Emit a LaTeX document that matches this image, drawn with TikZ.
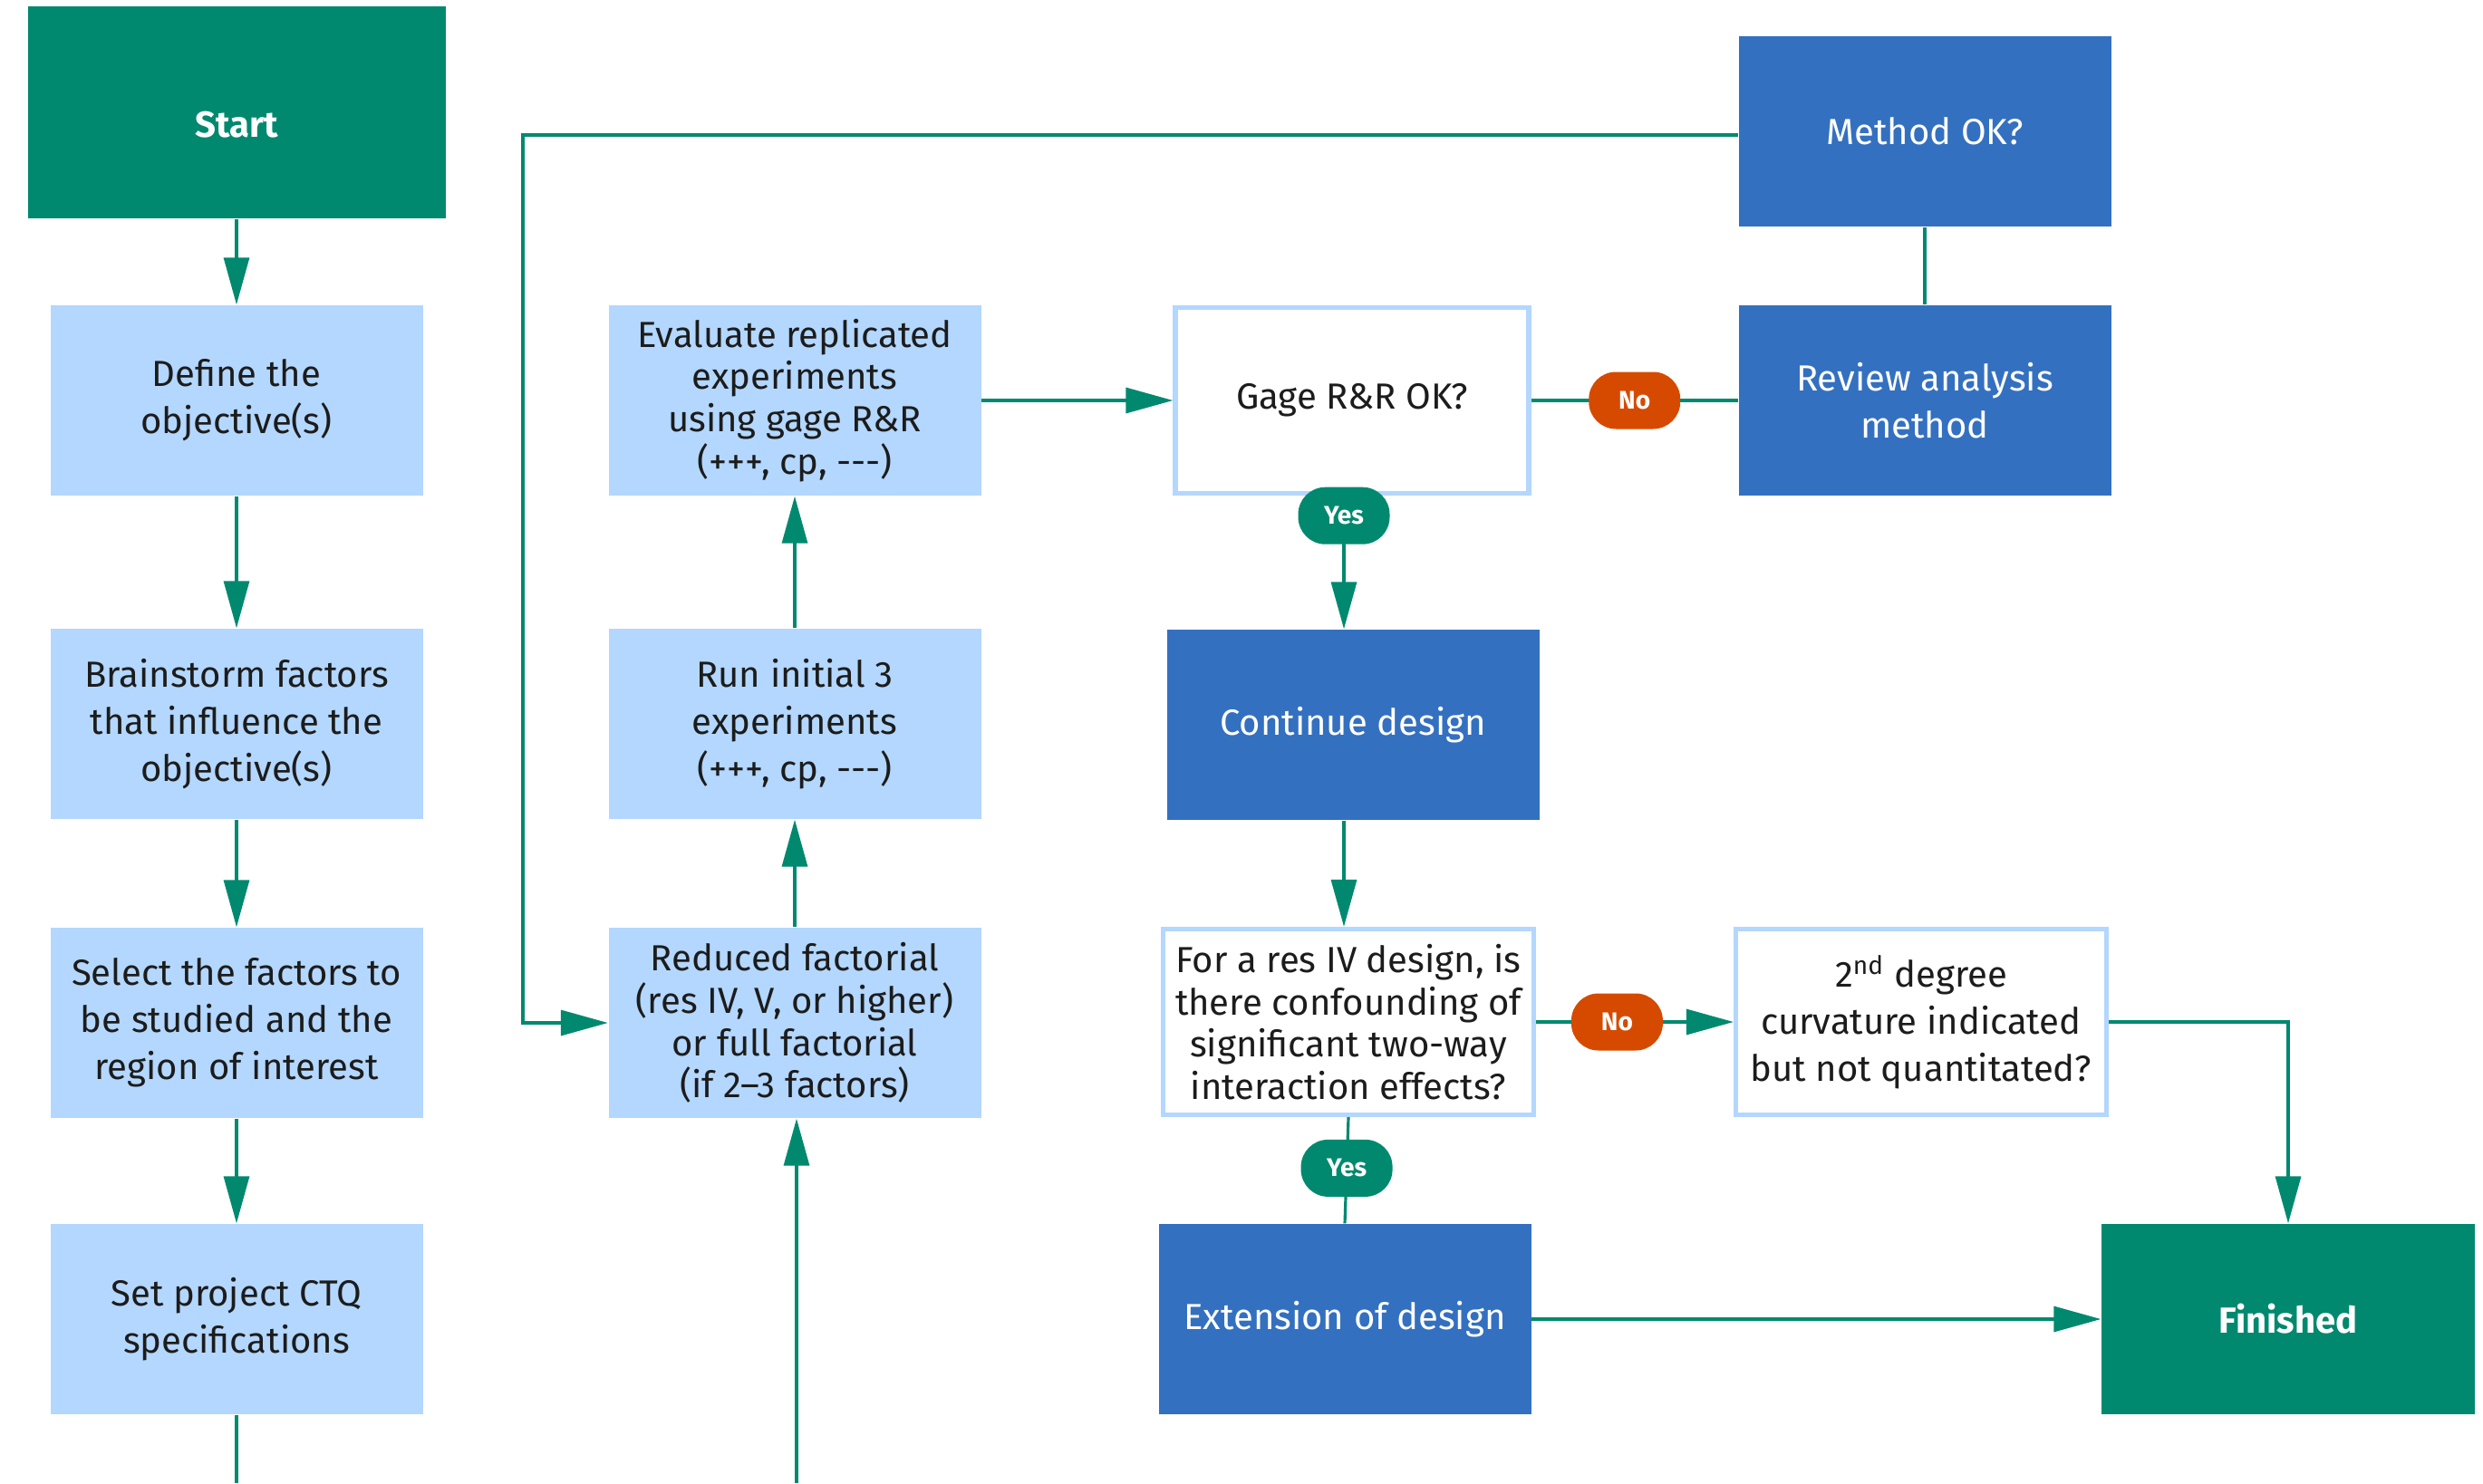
\documentclass[tikz,border=0pt]{standalone}
\usepackage{fontspec}
\setmainfont{Fira Sans}
\usepackage{xcolor}
\definecolor{mygreen}{HTML}{00896F}
\definecolor{mypale}{HTML}{B3D7FE}
\definecolor{mynavy}{HTML}{3470C0}
\definecolor{myorange}{HTML}{D64A00}
\definecolor{myink}{HTML}{1C1C1C}
\usepackage{tikz}
\usetikzlibrary{arrows.meta}
\tikzset{
  box/.style={minimum width=4.11cm,minimum height=2.1cm,align=center,inner sep=0pt,
    text=myink,font=\fontsize{11.4}{14.8}\selectfont},
  tight/.style={font=\fontsize{11.4}{13.3}\selectfont},
  palebox/.style={box,fill=mypale},
  navybox/.style={box,fill=mynavy,text=white},
  greenbox/.style={box,fill=mygreen,text=white,font=\fontsize{11.4}{14.8}\selectfont\bfseries},
  askbox/.style={box,draw=mypale,line width=1.5pt,fill=white,minimum height=2.05cm},
  wire/.style={draw=mygreen,line width=0.9pt},
  flow/.style={wire,-{Triangle[length=0.52cm,width=0.28cm]}},
  pill/.style={fill=#1,text=white,font=\fontsize{8}{9}\selectfont\bfseries,
    rounded corners=0.3cm,minimum width=1.01cm,minimum height=0.63cm,inner sep=0pt}
}
\begin{document}
\begin{tikzpicture}
        \useasboundingbox (0cm,0cm) rectangle (27.4cm,-16.37cm);
        % first column
        \node[greenbox,minimum width=4.61cm,minimum height=2.34cm,text height=0.56cm,text depth=0pt] (start) at (2.61cm,-1.24cm) {Start};
        \node[palebox] (define) at (2.61cm,-4.42cm) {Define the\\objective(s)};
        \node[palebox] (brainstorm) at (2.61cm,-7.99cm) {Brainstorm factors\\that influence the\\objective(s)};
        \node[palebox] (select) at (2.61cm,-11.29cm) {Select the factors to\\be studied and the\\region of interest};
        \node[palebox] (ctq) at (2.61cm,-14.56cm) {Set project CTQ\\specifications};
        % second column
        \node[palebox,tight] (evaluate) at (8.77cm,-4.42cm) {Evaluate replicated\\experiments\\using gage R\&R\\(+++, cp, -{}-{}-)};
        \node[palebox] (run) at (8.77cm,-7.99cm) {Run initial 3\\experiments\\(+++, cp, -{}-{}-)};
        \node[palebox,tight] (reduced) at (8.77cm,-11.29cm) {Reduced factorial\\(res IV, V, or higher)\\or full factorial\\(if 2–3 factors)};
        % third column
        \node[askbox,minimum width=3.9cm] (gage) at (14.92cm,-4.42cm) {Gage R\&R OK?};
        \node[navybox] (continue) at (14.93cm,-8.00cm) {Continue design};
        \node[askbox,tight,minimum width=4.09cm] (confound) at (14.88cm,-11.28cm) {For a res IV design, is\\there confounding of\\significant two-way\\interaction effects?};
        \node[navybox] (extension) at (14.84cm,-14.56cm) {Extension of design};
        % fourth column
        \node[navybox] (method) at (21.24cm,-1.45cm) {Method OK?};
        \node[navybox] (review) at (21.24cm,-4.42cm) {Review analysis\\method};
        \node[askbox,minimum width=4.09cm] (curvature) at (21.2cm,-11.28cm) {2\textsuperscript{nd} degree\\curvature indicated\\but not quantitated?};
        \node[greenbox,minimum width=4.12cm] (finished) at (25.25cm,-14.56cm) {Finished};
        \coordinate (loop) at (5.77cm,-1.49cm);
        \coordinate (spine) at (14.83cm,-8cm);
        \coordinate (ctqend) at (2.61cm,-16.37cm);
        \coordinate (inflow) at (8.79cm,-16.37cm);
        % connectors
        \draw[flow] (start) -- (define);
        \draw[flow] (define) -- (brainstorm);
        \draw[flow] (brainstorm) -- (select);
        \draw[flow] (select) -- (ctq);
        \draw[wire] (ctq) -- (ctqend);
        \draw[flow] (inflow) -- (inflow |- reduced.south);
        \draw[flow] (reduced) -- (run);
        \draw[flow] (run) -- (evaluate);
        \draw[flow] (evaluate) -- (gage);
        \draw[wire] (gage) -- node[pill=myorange] {No} (review);
        \draw[wire] (review) -- (method);
        \draw[flow] (method.west |- loop) -- (loop) |- (reduced.west);
        \draw[flow] (gage.south -| spine) -- node[pill=mygreen,pos=0.15] {Yes} (continue.north -| spine);
        \draw[flow] (continue.south -| spine) -- (confound.north -| spine);
        \draw[flow] (confound.east) -- node[pill=myorange,pos=0.41] {No} (curvature.west);
        \draw[wire] (confound.south) -- node[pill=mygreen,pos=0.48] {Yes} (extension.north);
        \draw[flow] (extension) -- (finished);
        \draw[flow] (curvature.east) -| (finished.north);
      \end{tikzpicture}
\end{document}
